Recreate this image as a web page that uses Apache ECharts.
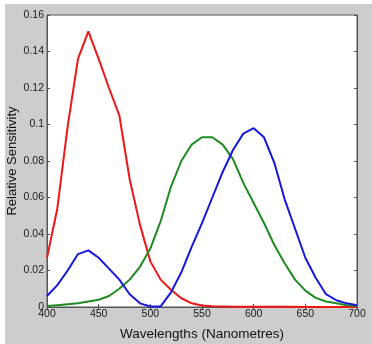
<!DOCTYPE html>
<html>
<head>
<meta charset="utf-8">
<script src="https://cdn.jsdelivr.net/npm/echarts@6/dist/echarts.min.js"></script>
<style>
  html, body { margin: 0; padding: 0; background: #fff; }
  #chart { position: absolute; left: 5px; top: 4px; width: 367px; height: 340px; }
</style>
</head>
<body>
<div id="chart"></div>
<script>
const wavelengths = [400, 410, 420, 430, 440, 450, 460, 470, 480, 490, 500, 510, 520, 530, 540, 550,
  560, 570, 580, 590, 600, 610, 620, 630, 640, 650, 660, 670, 680, 690, 700]

const redCone = [0.027, 0.054, 0.099, 0.136, 0.151, 0.136, 0.120, 0.105, 0.070, 0.045, 0.025, 0.015,
  0.0095, 0.0048, 0.002, 0.0008, 0.0004, 0.0003, 0.0002, 0.0001, 0.0001, 0.0001, 0.0001, 0.0001,
  0.0001, 0, 0, 0, 0, 0, 0]

const greenCone = [0.0005, 0.001, 0.0015, 0.002, 0.003, 0.004, 0.006, 0.010, 0.015, 0.022, 0.032,
  0.047, 0.066, 0.080, 0.089, 0.093, 0.093, 0.089, 0.081, 0.068, 0.057, 0.046, 0.034, 0.024, 0.015,
  0.009, 0.005, 0.003, 0.002, 0.001, 0.0005]

const blueCone = [0.006, 0.012, 0.020, 0.029, 0.031, 0.027, 0.021, 0.015, 0.007, 0.002, 0.0003,
  0.0003, 0.008, 0.019, 0.033, 0.046, 0.060, 0.074, 0.086, 0.095, 0.098, 0.093, 0.079, 0.059, 0.043,
  0.027, 0.016, 0.007, 0.0037, 0.002, 0.001]

const pairs = ys => wavelengths.map((w, i) => [w, ys[i]])

const axisColor = '#555'
const labelStyle = { fontFamily: 'Liberation Sans, Arial, sans-serif', fontSize: 10.5, color: '#1a1a1a' }

const chart = echarts.init(document.getElementById('chart'))
chart.setOption({
  animation: false,
  backgroundColor: '#cdcdcd',
  grid: {
    left: 42, right: 15, top: 11, bottom: 37, outerBoundsMode: 'none', containLabel: false,
    show: true, backgroundColor: '#fff', borderColor: axisColor, borderWidth: 1,
  },
  xAxis: [
    {
      type: 'value', min: 400, max: 700, interval: 50, position: 'bottom',
      name: 'Wavelengths (Nanometres)', nameLocation: 'middle', nameGap: 20, nameMoveOverlap: false,
      nameTextStyle: { fontFamily: 'Liberation Sans, Arial, sans-serif', fontSize: 13.5, color: '#111' },
      axisLine: { lineStyle: { color: axisColor } },
      axisTick: { inside: true, length: 3, lineStyle: { color: axisColor } },
      axisLabel: { ...labelStyle, margin: 2 },
      splitLine: { show: false },
    },
    {
      type: 'value', min: 400, max: 700, interval: 50, position: 'top',
      axisLine: { lineStyle: { color: axisColor } },
      axisTick: { inside: true, length: 3, lineStyle: { color: axisColor } },
      axisLabel: { show: false },
      splitLine: { show: false },
    },
  ],
  yAxis: [
    {
      type: 'value', min: 0, max: 0.16, interval: 0.02, position: 'left',
      name: 'Relative Sensitivity', nameLocation: 'middle', nameGap: 28, nameMoveOverlap: false,
      nameTextStyle: { fontFamily: 'Liberation Sans, Arial, sans-serif', fontSize: 13, color: '#111' },
      axisLine: { lineStyle: { color: axisColor } },
      axisTick: { inside: true, length: 3, lineStyle: { color: axisColor } },
      axisLabel: { ...labelStyle, margin: 3, formatter: v => String(+v.toFixed(2)) },
      splitLine: { show: false },
    },
    {
      type: 'value', min: 0, max: 0.16, interval: 0.02, position: 'right',
      axisLine: { lineStyle: { color: axisColor } },
      axisTick: { inside: true, length: 3, lineStyle: { color: axisColor } },
      axisLabel: { show: false },
      splitLine: { show: false },
    },
  ],
  series: [
    { name: 'red', type: 'line', data: pairs(redCone), showSymbol: false, lineStyle: { color: '#ee1616', width: 2 } },
    { name: 'green', type: 'line', data: pairs(greenCone), showSymbol: false, lineStyle: { color: '#1f8a1f', width: 2 } },
    { name: 'blue', type: 'line', data: pairs(blueCone), showSymbol: false, lineStyle: { color: '#1616dc', width: 2 } },
  ],
})
</script>
</body>
</html>
